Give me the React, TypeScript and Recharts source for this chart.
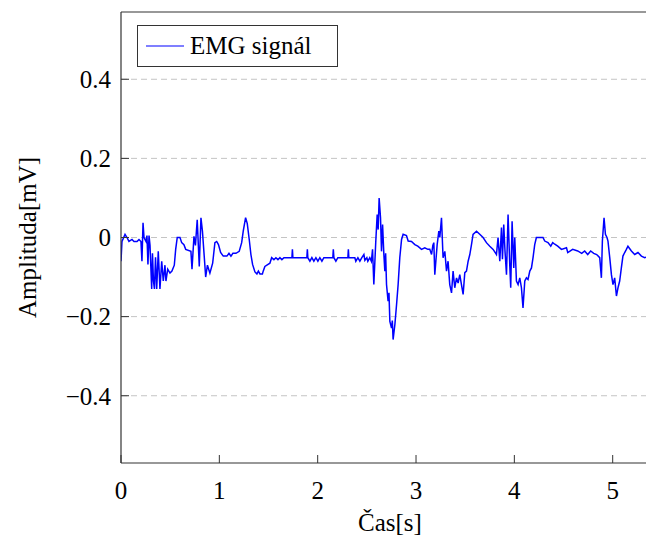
import React from "react";
import {
  LineChart,
  Line,
  XAxis,
  YAxis,
  CartesianGrid,
  Label,
} from "recharts";

// EMG recording, time in seconds
const time = [
  0.0, 0.01, 0.041, 0.061, 0.081, 0.112, 0.132, 0.163, 0.183, 0.203,
  0.213, 0.224, 0.234, 0.254, 0.264, 0.274, 0.285, 0.295, 0.312, 0.32,
  0.33, 0.34, 0.351, 0.363, 0.379, 0.396, 0.414, 0.43, 0.447, 0.457,
  0.475, 0.498, 0.518, 0.542, 0.556, 0.572, 0.6, 0.617, 0.64, 0.658,
  0.711, 0.722, 0.742, 0.757, 0.775, 0.796, 0.813, 0.828, 0.847, 0.861,
  0.879, 0.904, 0.932, 0.955, 0.973, 0.991, 1.013, 1.04, 1.077, 1.098,
  1.118, 1.138, 1.169, 1.202, 1.227, 1.243, 1.267, 1.284, 1.304, 1.321,
  1.338, 1.362, 1.382, 1.397, 1.413, 1.438, 1.446, 1.463, 1.514, 1.532,
  1.555, 1.575, 1.596, 1.616, 1.636, 1.657, 1.738, 1.743, 1.748, 1.89,
  1.895, 1.9, 1.921, 1.941, 1.961, 1.982, 2.002, 2.022, 2.043, 2.063,
  2.154, 2.159, 2.165, 2.185, 2.205, 2.307, 2.312, 2.317, 2.378, 2.388,
  2.409, 2.429, 2.449, 2.47, 2.48, 2.5, 2.51, 2.53, 2.546, 2.558,
  2.571, 2.591, 2.605, 2.615, 2.625, 2.639, 2.649, 2.66, 2.673, 2.683,
  2.691, 2.7, 2.716, 2.725, 2.734, 2.751, 2.759, 2.767, 2.785, 2.802,
  2.818, 2.835, 2.853, 2.869, 2.903, 2.92, 2.954, 2.988, 3.018, 3.056,
  3.089, 3.12, 3.14, 3.158, 3.171, 3.181, 3.191, 3.215, 3.232, 3.242,
  3.259, 3.275, 3.293, 3.31, 3.326, 3.343, 3.361, 3.377, 3.394, 3.412,
  3.428, 3.445, 3.462, 3.479, 3.496, 3.513, 3.53, 3.547, 3.564, 3.58,
  3.615, 3.648, 3.682, 3.716, 3.75, 3.784, 3.818, 3.834, 3.852, 3.869,
  3.879, 3.892, 3.905, 3.92, 3.936, 3.953, 3.963, 3.977, 3.994, 4.004,
  4.021, 4.038, 4.055, 4.072, 4.088, 4.106, 4.123, 4.139, 4.157, 4.174,
  4.19, 4.207, 4.224, 4.291, 4.309, 4.342, 4.37, 4.39, 4.411, 4.441,
  4.479, 4.53, 4.543, 4.593, 4.644, 4.685, 4.715, 4.746, 4.776, 4.807,
  4.837, 4.868, 4.885, 4.895, 4.912, 4.926, 4.942, 4.952, 4.97, 4.987,
  5.003, 5.02, 5.038, 5.054, 5.071, 5.088, 5.104, 5.122, 5.139, 5.155,
  5.19, 5.224, 5.257, 5.292, 5.325, 5.376, 5.399, 5.417, 5.45, 5.5,
];

// amplitude in mV
const amplitude = [
  -0.06, -0.01, 0.008, 0.0, -0.01, -0.005, -0.01, -0.01, -0.005, -0.01,
  -0.06, 0.037, 0.0, -0.01, 0.005, -0.068, 0.005, -0.02, -0.13, -0.04,
  -0.11, -0.13, -0.05, -0.13, -0.035, -0.13, -0.06, -0.11, -0.07, -0.11,
  -0.08, -0.09, -0.085, -0.07, -0.03, 0.0, 0.0, -0.013, -0.018, -0.03,
  -0.035, -0.08, 0.003, -0.02, 0.045, -0.073, 0.05, 0.016, -0.05, -0.1,
  -0.07, -0.09, -0.065, -0.013, -0.01, -0.018, -0.038, -0.047, -0.047, -0.04,
  -0.047, -0.04, -0.04, -0.035, -0.013, 0.016, 0.05, 0.035, -0.005, -0.043,
  -0.068, -0.087, -0.092, -0.085, -0.092, -0.092, -0.085, -0.073, -0.065, -0.051,
  -0.056, -0.051, -0.056, -0.051, -0.056, -0.051, -0.051, -0.03, -0.051, -0.051,
  -0.03, -0.051, -0.06, -0.051, -0.06, -0.051, -0.06, -0.051, -0.06, -0.051,
  -0.051, -0.03, -0.051, -0.06, -0.051, -0.051, -0.03, -0.051, -0.051, -0.06,
  -0.051, -0.06, -0.051, -0.043, -0.058, -0.051, -0.06, -0.051, -0.06, -0.03,
  -0.119, -0.009, 0.058, 0.02, 0.1, 0.05, -0.035, 0.033, -0.043, -0.085,
  -0.04, -0.119, -0.161, -0.14, -0.212, -0.229, -0.21, -0.258, -0.22, -0.17,
  -0.119, -0.051, -0.005, 0.008, 0.005, -0.009, -0.01, -0.018, -0.022, -0.03,
  -0.026, -0.03, -0.03, -0.043, -0.02, -0.013, -0.094, -0.018, 0.016, 0.0,
  0.05, -0.051, -0.035, -0.085, -0.06, -0.119, -0.14, -0.085, -0.127, -0.102,
  -0.115, -0.094, -0.119, -0.144, -0.089, -0.085, -0.06, -0.043, -0.018, 0.008,
  0.016, 0.008, 0.0, -0.013, -0.022, -0.03, -0.043, 0.0, -0.06, 0.025,
  -0.055, 0.033, -0.035, -0.094, 0.058, -0.068, -0.127, 0.041, -0.077, 0.0,
  -0.11, -0.119, -0.102, -0.127, -0.178, -0.11, -0.102, -0.106, -0.085, -0.077,
  -0.051, -0.018, 0.0, 0.0, -0.009, -0.013, -0.022, -0.013, -0.017, -0.022,
  -0.03, -0.026, -0.038, -0.03, -0.034, -0.04, -0.034, -0.043, -0.034, -0.04,
  -0.043, -0.051, -0.102, -0.009, 0.05, 0.008, 0.0, -0.009, -0.051, -0.094,
  -0.119, -0.102, -0.148, -0.127, -0.11, -0.077, -0.047, -0.038, -0.03, -0.022,
  -0.034, -0.043, -0.038, -0.047, -0.051, -0.047, -0.018, -0.056, -0.05, -0.05,
];

const xTicks = [0, 1, 2, 3, 4, 5];
const yTicks = [-0.4, -0.2, 0, 0.2, 0.4];

const FONT = '"Liberation Serif", Tinos, "Times New Roman", Times, serif';
const FRAME = "#333";

const fmtY = (v: number) =>
  v === 0 ? "0" : (v < 0 ? "\u2212" : "") + Math.abs(v).toFixed(1);

// the original figure is cut at the right page edge; its title is centred
// on the full plot width, slightly right of the visible middle
const XTitle = ({ viewBox }: any) => (
  <text
    x={viewBox.x + 269}
    y={514}
    textAnchor="middle"
    dominantBaseline="central"
    style={{ fontFamily: FONT, fontSize: 25 }}
    fill="#000"
  >
    Čas[s]
  </text>
);

const YTitle = ({ viewBox }: any) => {
  const cy = viewBox.y + viewBox.height / 2;
  return (
    <text
      x={19}
      y={cy}
      transform={`rotate(-90, 19, ${cy})`}
      textAnchor="middle"
      dominantBaseline="central"
      style={{ fontFamily: FONT, fontSize: 25 }}
      fill="#000"
    >
      Amplituda[mV]
    </text>
  );
};

const App: React.FC = () => {
  const data = time.map((t, i) => ({ t, v: amplitude[i] }));
  const tickStyle = { fontFamily: FONT, fontSize: 25, fill: "#000" };

  return (
    <div style={{ width: 646, height: 530, position: "relative", fontFamily: FONT }}>
      <LineChart
        width={646}
        height={530}
        data={data}
        margin={{ top: 0, right: 0, bottom: 0, left: 0 }}
        style={{ fontFamily: FONT }}
      >
        <CartesianGrid
          vertical={false}
          horizontalValues={yTicks}
          stroke="#c4c4c4"
          strokeDasharray="6 4"
          xAxisId="bottom"
        />
        <XAxis
          xAxisId="bottom"
          dataKey="t"
          type="number"
          domain={[0, 5.42]}
          allowDataOverflow
          ticks={xTicks}
          height={75}
          tickSize={-8}
          tickMargin={26}
          tick={tickStyle}
          axisLine={{ stroke: FRAME, strokeWidth: 1.2 }}
          tickLine={{ stroke: FRAME }}
        >
          <Label content={XTitle} />
        </XAxis>
        <XAxis
          xAxisId="top"
          orientation="top"
          dataKey="t"
          type="number"
          domain={[0, 5.42]}
          allowDataOverflow
          ticks={xTicks}
          height={4}
          tickSize={-8}
          tick={false}
          axisLine={{ stroke: FRAME, strokeWidth: 1.2 }}
          tickLine={{ stroke: FRAME }}
        />
        <YAxis
          type="number"
          domain={[-0.57, 0.57]}
          allowDataOverflow
          ticks={yTicks}
          width={113}
          tickSize={-8}
          tickMargin={18}
          tickFormatter={fmtY}
          tick={tickStyle}
          axisLine={{ stroke: FRAME, strokeWidth: 1.2 }}
          tickLine={{ stroke: FRAME }}
        >
          <Label content={YTitle} />
        </YAxis>
        <Line
          xAxisId="bottom"
          type="linear"
          dataKey="v"
          stroke="#0000ff"
          strokeWidth={1.5}
          dot={false}
          isAnimationActive={false}
        />
      </LineChart>
      <div
        style={{
          position: "absolute",
          left: 129,
          top: 17,
          width: 201,
          height: 42,
          boxSizing: "border-box",
          border: `1px solid ${FRAME}`,
          background: "#fff",
          display: "flex",
          alignItems: "center",
          fontFamily: FONT,
          fontSize: 25,
          color: "#000",
        }}
      >
        <svg width={52} height={10} style={{ flex: "none" }}>
          <line x1={8} y1={5} x2={46} y2={5} stroke="#0000ff" strokeWidth={1.2} />
        </svg>
        <span>EMG signál</span>
      </div>
    </div>
  );
};

export default App;
